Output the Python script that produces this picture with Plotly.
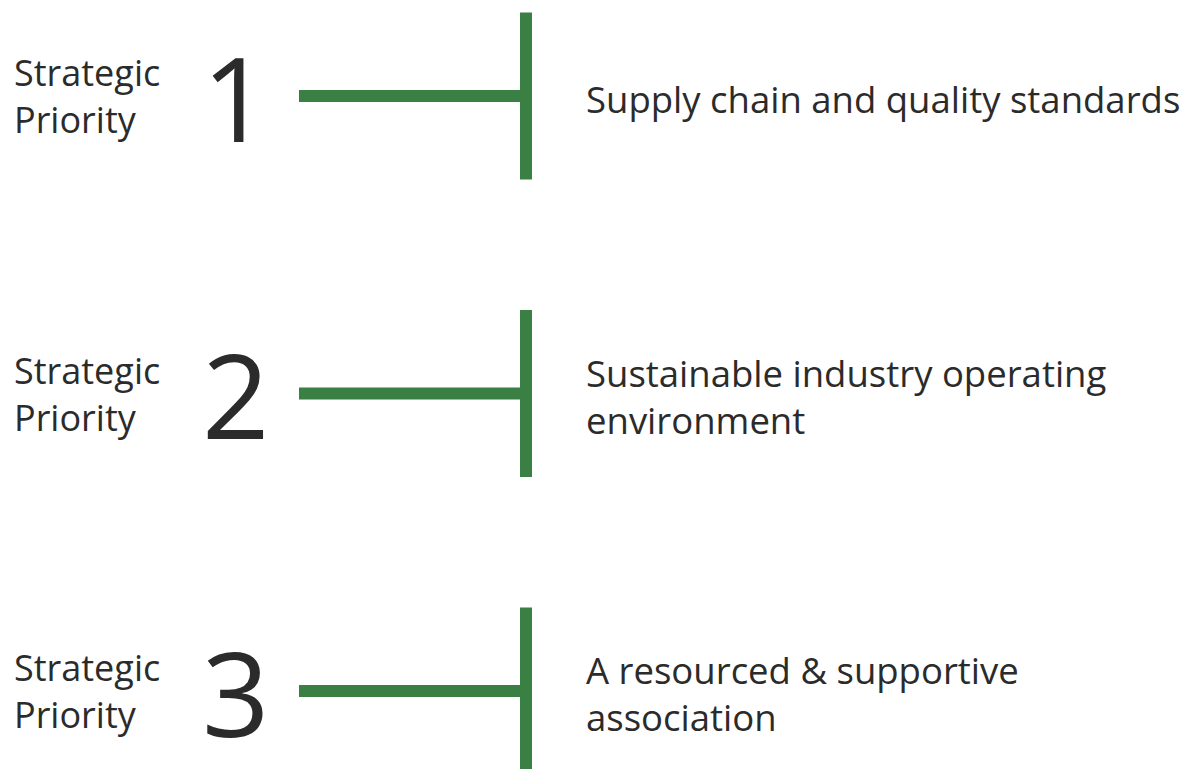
import plotly.graph_objects as go

priorities = [1, 2, 3]
left_label = "Strategic<br>Priority"
descriptions = [
    "Supply chain and quality standards",
    "Sustainable industry operating<br>environment",
    "A resourced & supportive<br>association",
]

GREEN = "#3a7f43"
TEXT = "#2b2b2b"
FONT = "Open Sans"

W, H = 1189, 769
OFF = 8  # page body margin
x_line_start, x_stem = 299, 526
stem_half = 0.281  # in y-units (block spacing units)

fig = go.Figure()

for p in priorities:
    fig.add_trace(go.Scatter(x=[x_line_start, x_stem], y=[p, p], mode="lines",
                             line=dict(color=GREEN, width=12), hoverinfo="skip", showlegend=False))
    fig.add_trace(go.Scatter(x=[x_stem, x_stem], y=[p - stem_half, p + stem_half], mode="lines",
                             line=dict(color=GREEN, width=12), hoverinfo="skip", showlegend=False))

for p, desc in zip(priorities, descriptions):
    fig.add_annotation(x=12, y=p, text=left_label, xref="x", yref="y", showarrow=False,
                       xanchor="left", yanchor="middle", align="left",
                       font=dict(family=FONT, size=36, color=TEXT))
    fig.add_annotation(x=235, y=p, text=str(p), xref="x", yref="y", showarrow=False,
                       xanchor="center", yanchor="middle",
                       font=dict(family=FONT, size=118, color=TEXT))
    fig.add_annotation(x=584, y=p + 0.01, text=desc, xref="x", yref="y", showarrow=False,
                       xanchor="left", yanchor="middle", align="left",
                       font=dict(family=FONT, size=36.5, color=TEXT))

spacing = 297.5
y_top = 1 - (96 - OFF) / spacing
y_bot = 1 + (H - 96) / spacing

fig.update_layout(
    width=W - OFF, height=H - OFF,
    margin=dict(l=0, r=0, t=0, b=0),
    paper_bgcolor="white", plot_bgcolor="white",
    xaxis=dict(range=[OFF, W], visible=False, fixedrange=True),
    yaxis=dict(range=[y_bot, y_top], visible=False, fixedrange=True),
)

fig.write_html("out.html")
